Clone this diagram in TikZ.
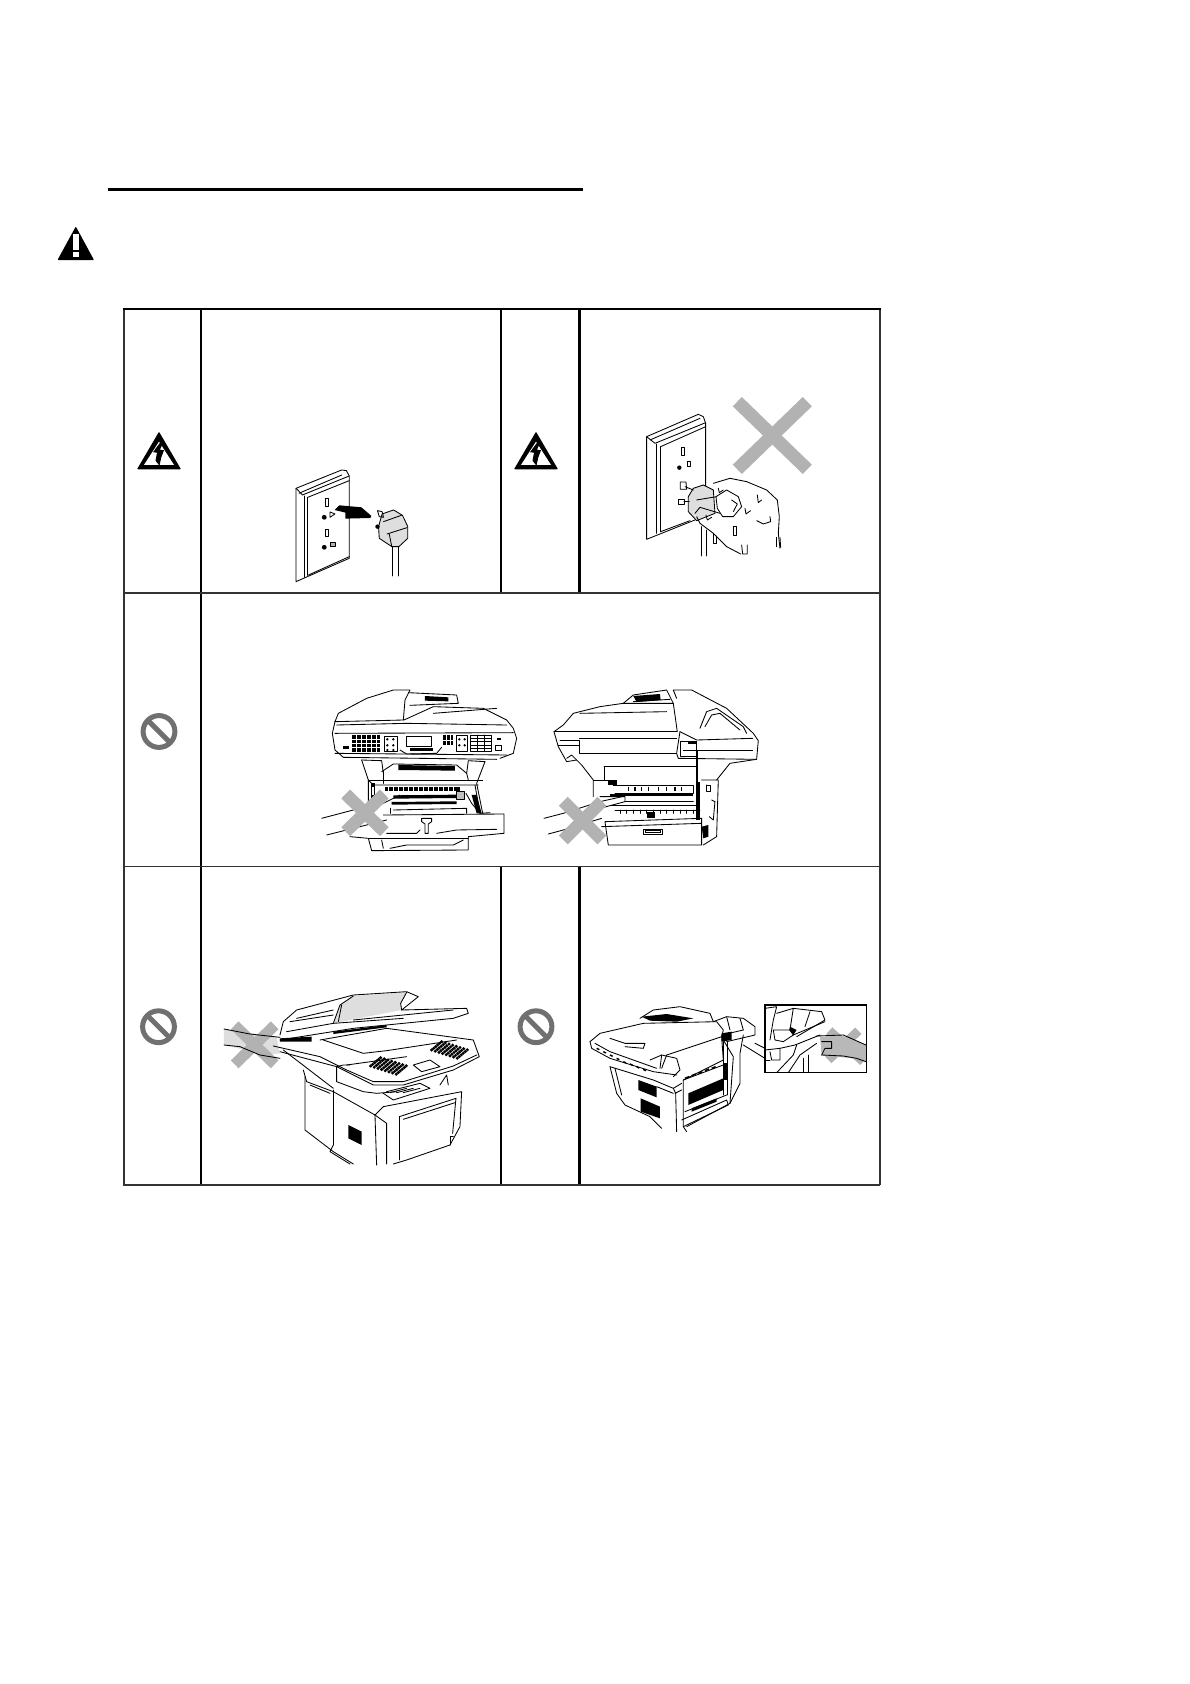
\documentclass[tikz,border=0pt]{standalone}
\definecolor{xgray}{HTML}{B2B2B2}
\definecolor{iconGray}{HTML}{707070}
\definecolor{paleGray}{HTML}{DEDEDE}
\definecolor{ruleGray}{HTML}{333333}
\newcommand\polyl[1]{\draw[ln] plot coordinates {#1};}
\newcommand\polyc[1]{\draw[ln] plot coordinates {#1} -- cycle;}
\newcommand\polyf[1]{\fill[black] plot coordinates {#1} -- cycle;}
% speckled keypad: origin x, origin y, step-u (x,y), step-v (x,y), counts
\newcommand\speckle[8]{\foreach \i in {0,...,#7}{\foreach \j in {0,...,#8}{
  \fill[black] ({#1+\i*#3+\j*#5},{#2+\i*#4+\j*#6}) circle (1.7pt);}}}
\tikzset{
  ln/.style={line width=0.85pt,black,line join=round,line cap=round},
  vrule/.style={line width=2.6pt,black},
  hrule/.style={line width=1.8pt,ruleGray},
  crossmark/.style={line width=12.5pt,xgray},
  zone/.style n args={2}{shift={(#1,#2)},x={(0.3333pt,0pt)},y={(0pt,-0.3333pt)}},
  zonewide/.style n args={2}{shift={(#1,#2)},x={(0.3571pt,0pt)},y={(0pt,-0.3333pt)}},
  elecicon/.pic={
    \fill[black,rounded corners=0.8pt] (0,0)--(-22,37.6)--(22,37.6)--cycle;
    \fill[white] (0,10)--(-15,33.2)--(15,33.2)--cycle;
    \fill[black] (2.5,9)--(-6,20.5)--(-2,21)--(-3.5,29)--(0.5,34)--(2.2,26)--(5,18.5)--(1,18)--(4.5,10)--cycle;
  },
  forbidicon/.pic={
    \draw[line width=5pt,iconGray] (0,0) circle (15.9);
    \draw[line width=5pt,iconGray] (-11.2,-11.2)--(11.2,11.2);
  }
}
\begin{document}
\begin{tikzpicture}[x=1pt,y=-1pt]
\useasboundingbox (0,0) rectangle (1190,1684);
\fill[white] (0,0) rectangle (1190,1684);

% title rule
\draw[line width=3pt,black] (108,189.5)--(583,189.5);

% warning triangle
\fill[black,rounded corners=0.8pt] (75.8,226.5)--(57.5,260)--(94,260)--cycle;
\fill[white] (73,234) rectangle (78.8,250);
\fill[white] (73,251.5) rectangle (78.8,257);

% table
\draw[line width=2pt,ruleGray] (123.5,309)--(123.5,1185);
\draw[line width=2pt,ruleGray] (879.5,309)--(879.5,1185);
\draw[vrule] (201,309)--(201,1185);
\draw[vrule] (501,309)--(501,593);
\draw[vrule] (501,866)--(501,1185);
\draw[vrule] (579.5,309)--(579.5,593);
\draw[vrule] (579.5,866)--(579.5,1185);
\draw[line width=2.4pt,black] (122.5,309)--(880.5,309);
\draw[hrule] (123,593)--(880,593);
\draw[hrule] (123,866.5)--(880,866.5);
\draw[line width=2.2pt,ruleGray] (123,1185)--(880,1185);

% icons
\pic at (159,431.7) {elecicon};
\pic at (536,431.7) {elecicon};
\pic at (159,731.5) {forbidicon};
\pic at (158.5,1026.7) {forbidicon};
\pic at (536,1026.7) {forbidicon};

% === socket and plug, first cell
\begin{scope}[zonewide={40}{160}]
\polyc{(717,985)(845,930)(858,932)(866,948)(866,1195)(717,1265)}
\polyl{(717,985)(735,1005)(866,948)}
\polyl{(740,1008)(740,1252)}
\polyl{(750,1012)(750,1246)}
\polyl{(750,1012)(866,962)}
\polyl{(750,1246)(866,1190)}
\polyl{(725,1000)(845,945)}
\draw[ln] (798,1016) rectangle (808,1038);
\fill[black] (796,1072) circle (2.4pt);
\polyc{(812,1056)(826,1062)(812,1072)}
\draw[ln] (798,1108) rectangle (808,1130);
\fill[black] (796,1162) circle (2.4pt);
\draw[ln,fill=black!30] (813,1146) rectangle (827,1160);
\polyf{(825,1050)(838,1036)(900,1042)(928,1068)(925,1074)(855,1076)(855,1058)}
\draw[ln,fill=paleGray] plot coordinates {(958,1062)(990,1050)(1015,1066)(1030,1100)(1030,1135)(1005,1160)(985,1160)(950,1135)(948,1100)} -- cycle;
\polyc{(945,1052)(958,1055)(962,1072)(950,1070)}
\fill[black] (945,1100) circle (2.2pt);
\polyl{(962,1085)(1012,1066)}
\polyl{(972,1122)(1028,1103)}
\polyl{(978,1122)(985,1160)}
\polyl{(988,1162)(988,1248)}
\polyl{(1003,1162)(1003,1248)}
\end{scope}

% === socket and hand, second cell
\begin{scope}[zone={500}{300}]
\polyl{(617,560)(617,370)(610,350)(595,343)(440,410)(440,718)(585,660)}
\polyl{(440,410)(465,430)(617,368)}
\polyl{(470,432)(470,700)}
\polyl{(482,440)(482,695)}
\polyl{(482,440)(617,380)}
\polyl{(482,695)(570,662)}
\polyl{(450,420)(600,355)}
\draw[ln] (543,443) rectangle (553,466);
\fill[black] (538,503) circle (2.2pt);
\draw[ln] (561,485) rectangle (572,500);
\polyc{(541,546)(558,546)(560,568)(541,568)}
\polyc{(536,598)(552,598)(552,612)(536,612)}
\draw[ln,fill=paleGray] plot coordinates {(580,565)(610,555)(640,570)(645,640)(590,662)(565,635)(565,590)} -- cycle;
\polyl{(555,560)(580,570)}
\polyl{(552,605)(568,605)}
\polyl{(590,600)(650,590)}
\polyl{(640,550)(690,535)(740,545)(800,570)(832,600)(838,650)(835,700)(840,745)}
\polyl{(590,650)(600,670)(640,700)(680,740)(722,762)}
\polyl{(585,640)(600,622)(660,640)}
\polyc{(648,590)(680,570)(715,590)(725,620)(700,650)(668,650)(652,625)}
\polyl{(695,600)(712,612)(700,635)}
\polyl{(605,680)(605,768)}
\polyl{(620,690)(620,768)}
\polyl{(640,700)(640,730)(650,730)(650,708)}
\polyl{(772,585)(775,608)(785,600)}
\polyl{(735,625)(738,642)(752,632)}
\polyl{(655,565)(658,578)(670,570)}
\polyl{(618,645)(622,660)(635,652)}
\polyl{(700,680)(700,705)(710,705)(710,680)(700,680)}
\polyl{(770,662)(790,672)(812,665)(810,650)}
\polyl{(725,735)(728,762)(742,762)(742,735)}
\polyl{(828,712)(828,740)}
\polyl{(840,712)(842,742)}
\draw[line width=13pt,xgray] (712,305)--(922,508);
\draw[line width=13pt,xgray] (922,305)--(712,508);
\end{scope}

% === printers, middle row
\begin{scope}[zone={300}{670}]
% front view
\polyl{(105,155)(115,130)(200,85)(280,60)(330,60)(315,90)(310,150)}
\polyl{(325,68)(470,75)(475,100)(330,106)}
\polyf{(375,78)(445,82)(445,94)(375,92)}
\polyl{(105,155)(310,150)}
\polyl{(312,150)(400,110)(550,115)(620,150)(640,175)(650,205)(640,250)(600,265)}
\polyl{(105,155)(97,190)(105,240)(130,262)(590,268)}
\polyl{(105,190)(640,188)}
\polyl{(110,165)(320,160)(620,165)}
\polyl{(400,130)(590,115)}
\fill[black] (155,195) rectangle (240,245);
\foreach \x in {170,185,200,215,230}{\draw[white,line width=0.8pt] (\x,195)--(\x,245);}
\foreach \y in {208,220,232}{\draw[white,line width=0.8pt] (155,\y)--(240,\y);}
\draw[ln] (252,198) rectangle (292,245);
\foreach \x in {262,280}{\foreach \y in {208,226,240}{\fill[black] (\x,\y) circle (1.3pt);}}
\draw[ln] (320,200) rectangle (395,230);
\polyl{(300,240)(320,252)(410,250)(425,232)}
\polyf{(330,235)(400,235)(400,242)(330,242)}
\fill[black] (430,195) rectangle (460,225);
\foreach \x in {440,450}{\draw[white,line width=0.8pt] (\x,195)--(\x,225);}
\draw[white,line width=0.8pt] (430,210)--(460,210);
\draw[ln] (470,197) rectangle (502,245);
\foreach \x in {478,494}{\foreach \y in {208,226}{\fill[black] (\x,\y) circle (1.3pt);}}
\draw[ln] (512,195) rectangle (575,245);
\foreach \y in {205,215,225,235}{\draw[ln] (512,\y)--(575,\y);}
\foreach \x in {533,554}{\draw[ln] (\x,195)--(\x,245);}
\draw[ln] (585,225) rectangle (605,240);
\fill[black] (130,228) rectangle (148,238);
\fill[black] (590,203) rectangle (604,210);
\polyl{(105,250)(620,255)}
\polyl{(185,270)(205,330)(205,430)}
\polyl{(185,270)(245,272)(250,310)}
\polyl{(555,275)(505,272)(500,310)}
\polyl{(555,275)(530,340)(548,430)}
\polyl{(245,305)(280,282)(470,285)(500,310)(505,330)}
\polyf{(295,285)(465,288)(465,302)(295,300)}
\polyl{(205,330)(548,330)}
\polyl{(250,305)(250,340)}
\polyl{(205,330)(220,345)(520,345)(535,345)}
\fill[black] (255,352) rectangle (480,362);
\foreach \x in {265,280,...,470}{\draw[white,line width=1pt] (\x,352)--(\x,362);}
\polyf{(280,376)(470,374)(470,384)(280,386)}
\polyf{(275,396)(470,394)(470,402)(275,404)}
\draw[ln] (470,365) rectangle (492,388);
\fill[black!25] (470,365) rectangle (492,388);
\fill[black] (212,340) rectangle (225,385);
\fill[white] (216,350) rectangle (223,375);
\polyl{(525,345)(540,430)}
\polyl{(498,370)(515,400)(540,430)}
\polyf{(515,375)(530,375)(545,430)(530,430)}
\polyl{(280,420)(500,415)(500,430)}
\polyl{(250,435)(612,432)(612,490)(505,500)(505,540)(215,542)(205,505)(150,500)}
\polyl{(270,430)(270,415)}
\polyl{(540,430)(570,428)}
\polyl{(365,445)(395,445)(395,455)(385,462)(385,490)(375,490)(375,462)(365,455)(365,445)}
\polyl{(260,490)(350,490)(360,480)}
\polyl{(410,490)(470,480)(590,478)}
\polyl{(205,505)(505,505)}
\polyl{(245,510)(250,535)}
\polyl{(270,535)(320,525)(460,525)(490,510)}
\polyl{(65,445)(160,420)(250,400)(300,375)}
\polyl{(80,495)(140,480)(260,450)}
\draw[crossmark] (137,372)--(253,485);
\draw[crossmark] (253,372)--(137,485);

% rear view
\polyl{(970,100)(1000,75)(1100,60)(1120,100)}
\polyf{(1000,78)(1080,72)(1082,90)(1010,96)}
\polyl{(1130,85)(1120,60)(1175,60)(1280,115)(1360,190)(1375,212)(1370,268)(1290,280)(1250,330)}
\polyl{(820,130)(900,110)(970,100)(1120,100)(1132,185)}
\polyl{(820,130)(790,165)(762,185)(775,230)(800,275)(830,270)(845,285)(880,330)(880,380)}
\polyl{(1000,95)(1110,88)}
\polyl{(840,130)(1100,125)}
\polyl{(762,185)(838,185)(1130,185)}
\polyf{(838,203)(1130,203)(1130,208)(838,208)}
\polyl{(780,210)(838,210)(838,250)(1130,250)}
\polyl{(775,225)(838,225)}
\polyl{(1140,185)(1190,210)(1358,205)}
\polyl{(1140,185)(1130,250)(1135,265)(1370,268)}
\polyl{(1200,175)(1220,125)(1250,115)(1330,170)(1340,190)}
\polyl{(1215,170)(1235,135)(1260,130)(1320,180)}
\draw[ln] (1140,215) rectangle (1190,260);
\polyf{(1165,212)(1190,212)(1190,222)(1165,222)}
\polyl{(1150,240)(1358,240)}
\polyl{(800,265)(815,255)(830,270)}
\polyf{(1187,240)(1194,240)(1194,335)(1187,335)}
\polyl{(912,290)(1187,290)}
\polyl{(912,290)(912,330)}
\polyl{(880,330)(950,330)}
\polyf{(925,330)(950,330)(950,345)(925,345)}
\polyl{(940,345)(1180,345)(1180,370)(945,370)}
\foreach \x in {985,1005,1025,1045,1075,1100,1125,1145}{\draw[line width=1.4pt] (\x,350)--(\x,364);}
\polyf{(930,372)(1180,372)(1180,378)(930,378)}
\polyl{(975,395)(1180,395)}
\polyf{(930,405)(1200,405)(1200,409)(930,409)}
\polyl{(945,420)(1200,420)}
\foreach \x in {960,980,...,1190}{\draw[ln] (\x,420)--(\x,430);}
\fill[black] (1040,425) rectangle (1066,445);
\polyf{(1188,335)(1200,335)(1200,450)(1188,450)}
\polyl{(915,455)(1205,445)(1205,525)(925,525)(915,455)}
\polyl{(905,470)(1205,460)}
\draw[ln] (1030,478) rectangle (1088,492);
\draw[ln] (1036,482) rectangle (1082,488);
\polyl{(1205,330)(1255,330)(1250,500)(1210,525)}
\polyl{(1220,345)(1230,345)(1230,365)(1220,365)(1220,345)}
\polyl{(1235,390)(1245,395)(1240,450)(1228,440)}
\polyf{(1205,470)(1225,465)(1225,500)(1210,505)}
\polyl{(732,445)(790,430)(900,395)(975,378)}
\polyl{(745,492)(790,480)(905,445)}
\polyl{(900,380)(975,380)(975,395)(900,415)}
\draw[crossmark] (790,394)--(906,510);
\draw[crossmark] (906,394)--(790,510);
\end{scope}

% === bottom left printer
\begin{scope}[zone={120}{960}]
\fill[paleGray] (312,207)--(470,232)--(480,280)--(440,285)--(312,255)--cycle;
\draw[line width=11pt,xgray] (344,196)--(464,313);
\draw[line width=11pt,xgray] (464,196)--(344,313);
\polyl{(312,207)(390,222)(480,232)}
\polyl{(312,255)(360,260)(420,285)(480,295)}
\fill[paleGray] (640,190)--(660,135)--(700,108)--(860,97)--(842,130)--(845,150)--(700,178)--cycle;
\polyl{(480,225)(490,185)(530,150)(700,105)(860,95)(895,110)(880,122)(845,150)(1040,145)(1045,160)(1000,175)(700,205)(480,240)}
\polyl{(860,97)(842,130)(845,150)}
\polyl{(640,190)(660,135)(700,108)}
\polyl{(665,135)(655,185)}
\polyl{(510,185)(640,165)}
\polyl{(530,175)(640,150)}
\polyl{(700,180)(1000,150)}
\polyl{(500,215)(640,190)(850,175)}
\polyf{(640,215)(800,195)(800,202)(640,222)}
\polyf{(480,235)(575,230)(575,245)(480,245)}
\polyl{(600,240)(800,205)(1060,240)(1078,290)(1000,330)(850,375)(760,375)(650,320)(480,275)}
\polyl{(610,240)(730,280)(800,272)(1010,240)}
\polyl{(460,258)(600,290)(680,330)(760,365)(850,365)(1000,318)(1070,285)}
\polyl{(490,270)(640,385)}
\polyl{(650,320)(650,365)(730,395)(770,400)(830,395)}
\polyl{(650,320)(670,315)(690,315)}
\speckle{752}{318}{11}{3.5}{6}{-5}{7}{5}
\speckle{935}{270}{11}{3.5}{6}{-5}{7}{5}
\polyc{(880,315)(930,300)(960,320)(905,335)}
\polyl{(680,315)(860,290)}
\polyl{(800,395)(900,370)(930,385)(820,420)(790,400)}
\foreach \a/\b in {810/860,830/880,850/900}{\draw[ln] (\a,398)--(\b,385);}
\polyl{(555,350)(555,510)(640,575)(700,612)}
\polyl{(550,330)(560,365)(640,395)(765,465)(770,615)}
\polyl{(640,390)(640,555)}
\polyl{(765,465)(800,490)(800,612)}
\polyl{(765,465)(790,440)(1025,395)(1020,500)(990,555)(860,600)(820,612)}
\polyl{(960,375)(980,345)(985,375)}
\polyl{(838,470)(1008,415)(998,520)}
\polyl{(838,470)(838,600)}
\polyl{(850,478)(1005,428)}
\polyf{(685,495)(725,515)(725,555)(685,535)}
\polyl{(570,375)(630,400)}
\polyl{(640,555)(630,575)(690,612)}
\polyl{(990,555)(990,530)(1000,530)}
\end{scope}

% === bottom right printer
\begin{scope}[zone={510}{980}]
\polyl{(240,185)(270,160)(400,130)(620,125)(640,150)(635,170)(470,225)(455,265)}
\polyl{(240,185)(245,205)(300,235)(430,275)(500,285)}
\polyl{(255,190)(300,215)(440,265)}
\polyl{(390,115)(430,90)(510,80)(600,100)(610,125)}
\polyf{(395,110)(470,102)(550,115)(500,125)(420,122)}
\polyl{(300,175)(345,190)(405,190)(400,205)(345,200)}
\polyl{(420,240)(455,225)(500,235)(510,270)(490,290)}
\polyl{(455,225)(450,265)}
\foreach \x/\y in {260/205,280/215,300/225,320/235,340/245,360/252,380/260,400/268}{\draw[line width=1.5pt] (\x,\y)--(\x+8,\y+4);}
\polyl{(610,125)(650,110)(700,115)(735,140)(735,165)(650,185)}
\polyl{(650,110)(660,150)}
\polyl{(690,115)(700,150)}
\polyl{(635,165)(700,150)}
\polyf{(635,160)(665,155)(665,180)(635,185)}
\polyl{(635,170)(640,240)(520,300)}
\polyl{(700,165)(690,220)(690,310)(660,370)(530,440)}
\polyl{(640,180)(670,230)(660,370)}
\polyl{(640,185)(640,345)}
\polyl{(652,185)(652,345)}
\polyf{(640,250)(652,250)(652,300)(640,300)}
\polyl{(520,300)(640,255)}
\foreach \x/\y in {525/295,545/287,565/280,585/272,605/265}{\draw[line width=1.5pt] (\x,\y)--(\x+12,\y-5);}
\polyf{(535,340)(640,295)(640,330)(535,375)}
\polyl{(515,420)(650,360)(655,375)(520,440)}
\polyl{(525,395)(650,345)}
\polyf{(545,385)(620,355)(620,365)(545,395)}
\polyl{(520,300)(520,440)(530,455)}
\polyf{(385,300)(440,320)(440,352)(385,330)}
\polyf{(392,355)(450,380)(450,415)(392,395)}
\polyl{(300,260)(320,340)(345,375)(420,410)(455,445)}
\polyl{(315,265)(335,345)}
\polyl{(300,260)(430,300)(490,325)(497,340)(500,455)}
\polyl{(440,320)(490,340)}
\polyl{(490,325)(515,310)}
\polyl{(495,340)(515,330)}
\polyl{(700,195)(765,235)}
\polyl{(735,190)(765,205)}
% inset
\begin{scope}
\clip (765,75) rectangle (1070,278);
\draw[line width=9pt,xgray] (958,152)--(1060,245);
\draw[line width=9pt,xgray] (1045,152)--(955,240);
\fill[black!28] (930,170)--(1000,168)--(1068,195)--(1068,245)--(1030,235)--(960,228)--(935,225)--cycle;
\polyl{(765,85)(800,80)(790,120)(780,180)}
\polyl{(800,100)(850,85)(935,95)(945,120)(860,170)}
\polyl{(850,85)(840,150)}
\polyl{(900,95)(885,140)}
\polyl{(790,150)(840,150)(850,165)(820,185)(795,180)(790,150)}
\polyf{(840,140)(860,150)(850,165)(838,150)}
\polyl{(850,165)(945,125)}
\polyl{(765,210)(810,205)(855,195)(930,165)}
\polyl{(780,215)(785,240)(810,240)(810,205)}
\polyl{(860,195)(850,225)(800,278)}
\polyl{(920,190)(870,225)(835,278)}
\polyl{(880,235)(880,278)}
\polyl{(895,225)(895,278)}
\polyl{(920,168)(1000,165)(1068,195)}
\polyl{(935,225)(1000,228)(1040,235)(1068,245)}
\polyl{(935,185)(965,185)(965,205)(945,205)(935,225)}
\polyl{(765,240)(780,240)}
\end{scope}
\draw[line width=1.1pt,black] (765,75) rectangle (1070,278);
\end{scope}
\end{tikzpicture}
\end{document}
